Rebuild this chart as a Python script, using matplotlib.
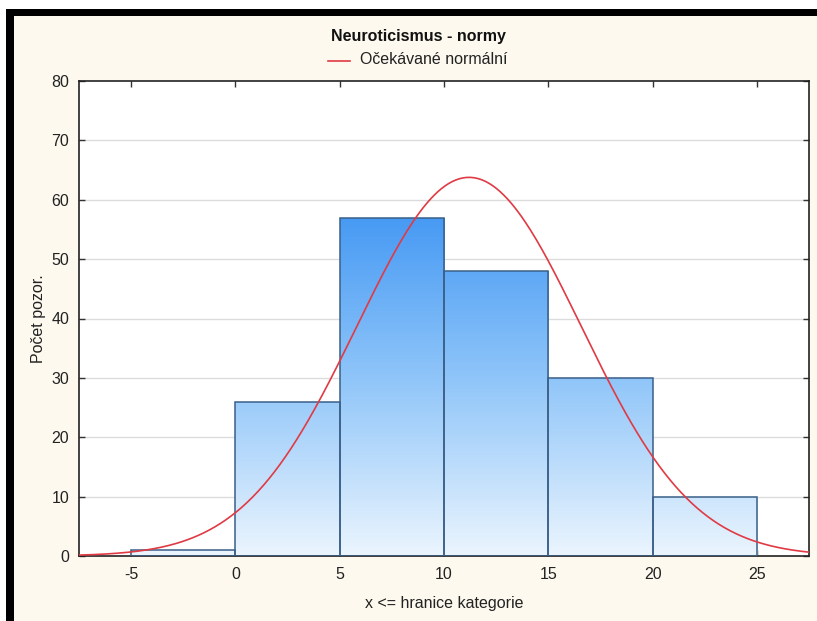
import numpy as np
import matplotlib
matplotlib.use("Agg")
import matplotlib.pyplot as plt
from matplotlib.patches import Rectangle
from matplotlib.lines import Line2D
from matplotlib.colors import LinearSegmentedColormap

plt.rcParams['font.family'] = ['Liberation Sans', 'DejaVu Sans']
plt.rcParams['axes.unicode_minus'] = False

# histogram data (bin upper edges "x <= hranice kategorie")
bin_left = [-5, 0, 5, 10, 15, 20]
bin_width = 5
counts = [1, 26, 57, 48, 30, 10]
x_ticks = [-5, 0, 5, 10, 15, 20, 25]
y_ticks = [0, 10, 20, 30, 40, 50, 60, 70, 80]

# expected normal parameters
N_TOTAL = sum(counts)
MEAN = 11.2
SD = 5.38

BG = '#fdf9ee'
EDGE = '#3a5f88'
CURVE = '#e03a44'
GRID = '#dcdcdc'
TEXT = '#222222'
FS = 11.5

W, H = 817, 621
fig = plt.figure(figsize=(W / 100, H / 100), dpi=100)
fig.patch.set_facecolor('white')

# cream panel with black top/left frame, like the screenshot
fig.patches.append(Rectangle((6 / W, 0), 1 - 6 / W, 1 - 9 / H, transform=fig.transFigure,
                             facecolor=BG, edgecolor='none', zorder=-3))
fig.patches.append(Rectangle((6 / W, 1 - 16 / H), 1 - 6 / W, 7 / H, transform=fig.transFigure,
                             facecolor='black', edgecolor='none', zorder=-2))
fig.patches.append(Rectangle((6 / W, 0), 8 / W, 1 - 9 / H, transform=fig.transFigure,
                             facecolor='black', edgecolor='none', zorder=-2))

ax = fig.add_axes([79 / W, 1 - 556 / H, 730 / W, 475 / H])
ax.set_facecolor('white')

for y in y_ticks[1:-1]:
    ax.axhline(y, color=GRID, lw=1, zorder=0)

cmap = LinearSegmentedColormap.from_list('bars', ['#ebf5fe', '#8fc5f9', '#3f95f3'])
grad = np.linspace(0, 1, 256).reshape(-1, 1)
for left, h in zip(bin_left, counts):
    rect = Rectangle((left, 0), bin_width, h, facecolor='none', edgecolor=EDGE, lw=1.1, zorder=3)
    ax.add_patch(rect)
    im = ax.imshow(grad, cmap=cmap, origin='lower', aspect='auto',
                   extent=(-7.5, 27.5, 0, 60), vmin=0, vmax=1, zorder=2)
    im.set_clip_path(rect)
ax.set_xlim(-7.5, 27.5)
ax.set_ylim(0, 80)

xs = np.linspace(-7.5, 27.5, 400)
expected = N_TOTAL * bin_width * np.exp(-0.5 * ((xs - MEAN) / SD) ** 2) / (SD * np.sqrt(2 * np.pi))
ax.plot(xs, expected, color=CURVE, lw=1.2, zorder=4)

ax.set_xticks(x_ticks)
ax.set_yticks(y_ticks)
ax.tick_params(direction='in', length=4, width=1, top=True, right=True,
               labelsize=FS, labelcolor=TEXT, color='#333333')
ax.tick_params(axis='x', pad=8)
ax.tick_params(axis='y', pad=7)
for s in ax.spines.values():
    s.set_color('#222222')
    s.set_linewidth(1.2)

ax.set_xlabel('x <= hranice kategorie', fontsize=FS, color=TEXT, labelpad=10)
ax.set_ylabel('Počet pozor.', fontsize=FS, color=TEXT, labelpad=4)

fig.text(418 / W, 1 - 36 / H, 'Neuroticismus - normy', ha='center', va='center',
         fontsize=FS, fontweight='bold', color='#111111')
fig.lines.append(Line2D([328 / W, 350 / W], [1 - 61 / H, 1 - 61 / H], transform=fig.transFigure,
                        color=CURVE, lw=1.2))
fig.text(360 / W, 1 - 60 / H, 'Očekávané normální', ha='left', va='center',
         fontsize=FS, color=TEXT)

fig.savefig('out.png', dpi=100, facecolor=fig.get_facecolor())
